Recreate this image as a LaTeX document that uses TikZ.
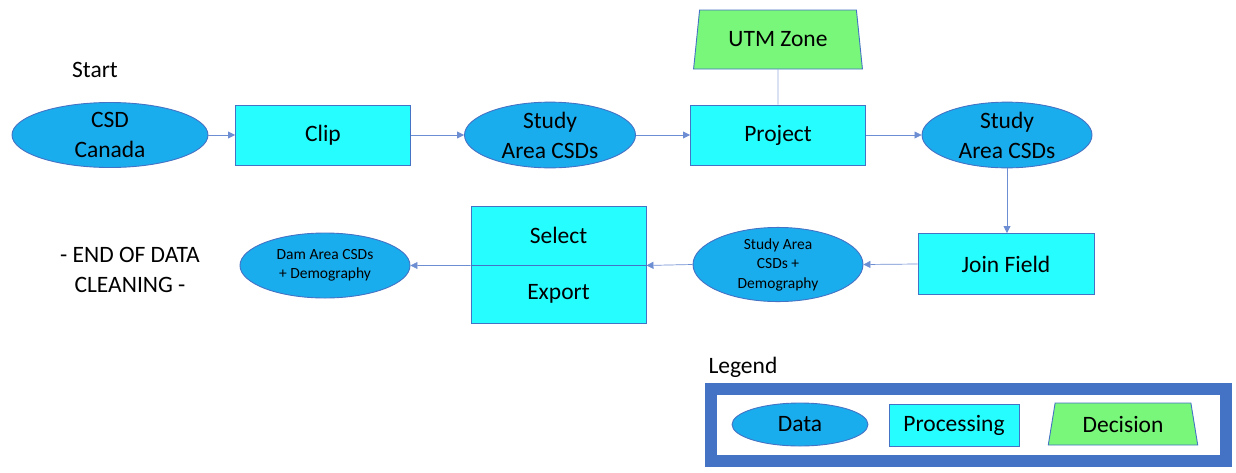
\documentclass[tikz,border=0pt]{standalone}
\usepackage{fontspec}
\setmainfont{Carlito}
\usetikzlibrary{shapes.geometric,arrows.meta}
\definecolor{dataC}{HTML}{1AADEE}
\definecolor{procC}{HTML}{25FDFF}
\definecolor{decC}{HTML}{78F77A}
\definecolor{edgeC}{HTML}{4472C4}
\definecolor{lineC}{HTML}{4A72C8}
\tikzset{
  big/.style={font=\fontsize{23.5}{30}\selectfont},
  small/.style={font=\fontsize{15.5}{19.5}\selectfont},
  databox/.style={ellipse, draw=edgeC, line width=0.9pt, fill=dataC, inner sep=0pt, align=center, text=black},
  procbox/.style={rectangle, draw=edgeC, line width=0.9pt, fill=procC, inner sep=0pt, align=center, big},
  decbox/.style={trapezium, trapezium stretches=true, draw=edgeC, line width=0.9pt, fill=decC, inner sep=0pt, align=center, big},
  flow/.style={draw=lineC!80, line width=0.7pt, -{Triangle[length=7pt,width=7pt]}},
  plainln/.style={draw=lineC!60, line width=0.8pt},
}
\begin{document}
\begin{tikzpicture}[x=1pt,y=-1pt]
\useasboundingbox (0,0) rectangle (1236,472);
% top row
\node[databox, big, minimum width=196, minimum height=65] (csd) at (110,135) {CSD\\Canada};
\node[procbox, minimum width=175, minimum height=60] (clip) at (323,135) {Clip};
\node[databox, big, minimum width=171, minimum height=65] (sa1) at (550,135) {Study\\Area CSDs};
\node[procbox, minimum width=175, minimum height=60] (proj) at (778,135) {Project};
\node[decbox, minimum width=169, minimum height=59, trapezium angle=76] (utm) at (778,39.5) {UTM Zone};
\node[databox, big, minimum width=170, minimum height=65] (sa2) at (1007,135) {Study\\Area CSDs};
% second row
\node[procbox, minimum width=176, minimum height=61] (join) at (1006,264) {Join Field};
\node[databox, small, minimum width=170, minimum height=65] (sdemo) at (778,264.5) {Study Area\\CSDs +\\Demography};
\node[procbox, minimum width=175, minimum height=59] (sel) at (558.5,235.5) {Select};
\node[procbox, minimum width=175, minimum height=58] (exp) at (558.5,294) {Export};
\node[databox, small, minimum width=170, minimum height=65] (dam) at (325,265.5) {Dam Area CSDs\\+ Demography};
% texts
\node[big] (start) at (95,70) {Start};
\node[big, align=center] (endtxt) at (130,270) {- END OF DATA\\CLEANING -};
% connectors
\draw[flow] (csd.east) -- (clip.west);
\draw[flow] (clip.east) -- (sa1.west);
\draw[flow] (sa1.east) -- (proj.west);
\draw[plainln] (utm.south) -- (proj.north);
\draw[flow] (proj.east) -- (sa2.west);
\draw[flow] (sa2.south) -- (sa2.south |- join.north);
\draw[flow] (join.west) -- (sdemo.east);
\draw[flow] (sdemo.west) -- (sel.south east);
\draw[flow] (sel.south west) -- (dam.east);
% legend
\node[big, anchor=west] (legtitle) at (705,367) {Legend};
\node[draw=edgeC, line width=12pt, minimum width=515, minimum height=72, inner sep=0pt] (legbox) at (968.5,425) {};
\node[databox, big, minimum width=136, minimum height=43] (ldata) at (800,424.5) {Data};
\node[procbox, minimum width=130, minimum height=42] (lproc) at (954,425) {Processing};
\node[decbox, minimum width=150, minimum height=42, trapezium angle=76] (ldec) at (1123,424) {Decision};
\end{tikzpicture}
\end{document}
